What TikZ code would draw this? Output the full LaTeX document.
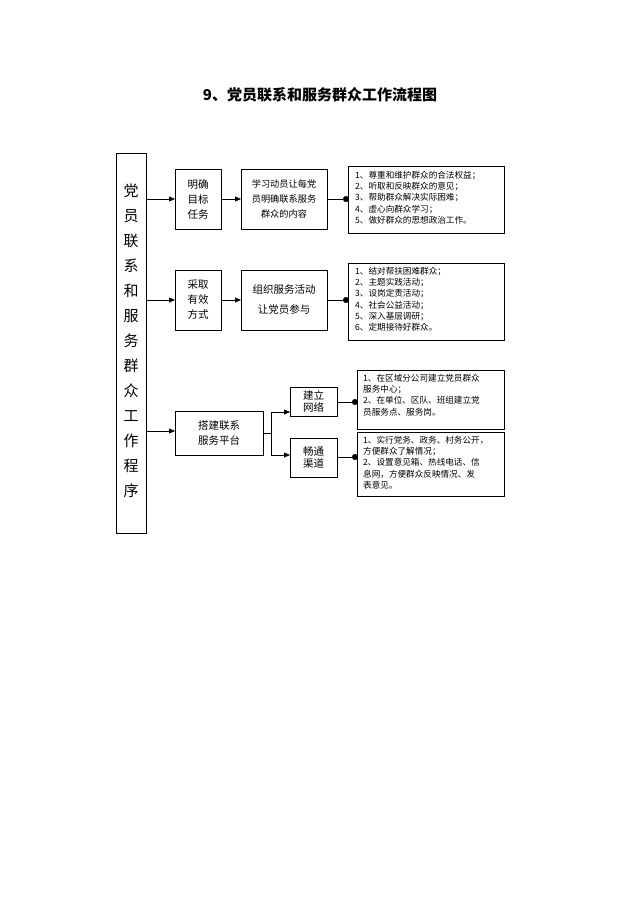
\documentclass[tikz,border=0pt]{standalone}
\usepackage{fontspec}
\setmainfont{Noto Sans CJK SC}
\usetikzlibrary{arrows.meta}
\begin{document}
\begin{tikzpicture}[x=1pt,y=-1pt,
 t/.style={font=\fontsize{10.5}{15}\selectfont,align=center},
 l/.style={font=\fontsize{8.6}{11.2}\selectfont,align=left,anchor=north west,inner sep=0pt},
 ar/.style={-{Triangle[length=6pt,width=5pt]}},
 dt/.style={-{Circle[length=6pt]}}]
\useasboundingbox (0,0) rectangle (640,906);
\node[font=\bfseries\fontsize{15}{17}\selectfont] (title) at (320,95) {9、党员联系和服务群众工作流程图};
% left
\draw[thick] (116,153) rectangle (146,533);
\node[font=\fontsize{15}{25}\selectfont,align=center] (L) at (131,341) {党\\员\\联\\系\\和\\服\\务\\群\\众\\工\\作\\程\\序};
\coordinate (L1) at (146,199); \coordinate (L2) at (146,300); \coordinate (L3) at (146,431);
% row1
\draw[thick] (175,169) rectangle (221,229); \node[t] (a1) at (198,199) {明确\\目标\\任务};
\draw[thick] (241,169) rectangle (327,229); \node[t,font=\fontsize{9.2}{15}\selectfont] (a2) at (284,199) {学习动员让每党\\员明确联系服务\\群众的内容};
\draw[thick] (348,166) rectangle (504,233);
\node[l] (a3) at (355,171) {1、尊重和维护群众的合法权益；\\2、听取和反映群众的意见；\\3、帮助群众解决实际困难；\\4、虚心向群众学习；\\5、做好群众的思想政治工作。};
\draw[ar] (L1) -- (175,199); \draw[ar] (221,199) -- (241,199); \draw[dt] (327,199) -- (349,199);
% row2
\draw[thick] (175,270) rectangle (221,330); \node[t] (b1) at (198,300) {采取\\有效\\方式};
\draw[thick] (241,270) rectangle (327,330); \node[t,font=\fontsize{10.5}{20}\selectfont] (b2) at (284,300) {组织服务活动\\让党员参与};
\draw[thick] (348,263) rectangle (504,340);
\node[l] (b3) at (355,267) {1、结对帮扶困难群众；\\2、主题实践活动；\\3、设岗定责活动；\\4、社会公益活动；\\5、深入基层调研；\\6、定期接待好群众。};
\draw[ar] (L2) -- (175,300); \draw[ar] (221,300) -- (241,300); \draw[dt] (327,300) -- (349,300);
% row3
\draw[thick] (175,411) rectangle (263,455); \node[t] (c1) at (219,433) {搭建联系\\服务平台};
\draw[thick] (290,387) rectangle (337,416); \node[t,font=\fontsize{10.5}{12}\selectfont] (c2) at (313.5,401.5) {建立\\网络};
\draw[thick] (290,438) rectangle (337,477); \node[t,font=\fontsize{10.5}{12}\selectfont] (c3) at (313.5,457.5) {畅通\\渠道};
\draw[thick] (357,370) rectangle (504,429);
\node[l] (c4) at (363,374) {1、在区域分公司建立党员群众\\服务中心；\\2、在单位、区队、班组建立党\\员服务点、服务岗。};
\draw[thick] (357,432) rectangle (504,496);
\node[l] (c5) at (363,436) {1、实行党务、政务、村务公开，\\方便群众了解情况；\\2、设置意见箱、热线电话、信\\息网，方便群众反映情况、发\\表意见。};
\draw[ar] (L3) -- (175,431);
\draw[ar] (263,433) -- (271,433) |- (290,412);
\draw[ar] (271,433) |- (290,455);
\draw[dt] (337,402) -- (358,402); \draw[dt] (337,457) -- (358,457);
\end{tikzpicture}
\end{document}
